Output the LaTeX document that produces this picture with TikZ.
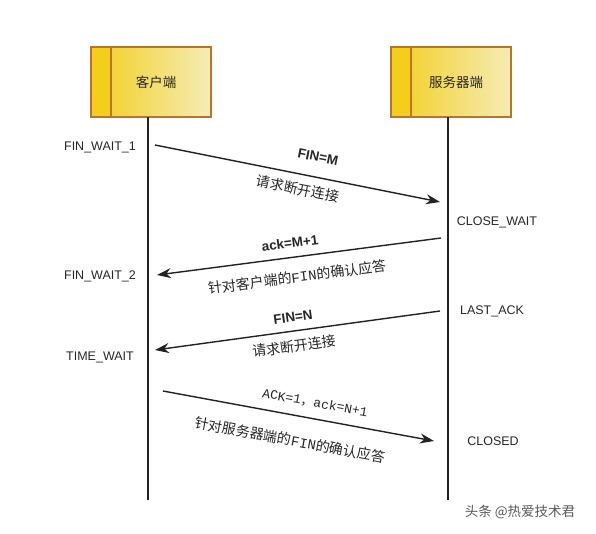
\documentclass[tikz,border=0pt]{standalone}
\usepackage{fontspec}
\setmainfont{Liberation Sans}
\newfontfamily\cjk{Noto Sans CJK SC}
\newfontfamily\monoA{Liberation Mono}
\usetikzlibrary{arrows.meta}
\definecolor{boxborder}{HTML}{B8742A}
\definecolor{goldL}{HTML}{F2CF1E}
\definecolor{goldR}{HTML}{F5ECB5}
\definecolor{strip}{HTML}{F4CE1A}
\definecolor{linec}{HTML}{222222}
\tikzset{
  actorbox/.style={draw=boxborder, line width=1.6pt, left color=goldL, right color=goldR, minimum width=120pt, minimum height=70pt, inner sep=0pt, font=\cjk\fontsize{13.5}{15}\selectfont, text=black!85},
  stripbox/.style={draw=boxborder, line width=1.6pt, fill=strip, minimum width=20pt, minimum height=70pt, inner sep=0pt},
  lifeline/.style={draw=linec, line width=1.6pt},
  msg/.style={draw=linec, line width=1.4pt, -{Stealth[length=14pt,width=10pt]}},
  statelbl/.style={font=\fontsize{12.5}{14}\selectfont, text=black!85},
  boldlbl/.style={font=\bfseries\fontsize{13.5}{15}\selectfont, text=black!85},
  cnlbl/.style={font=\cjk\fontsize{14}{16}\selectfont, text=black!85},
}
\begin{document}
\begin{tikzpicture}[x=1pt,y=-1pt]
\useasboundingbox (0,0) rectangle (596,533);
% actor boxes
\node[actorbox] (client) at (151,82) {\hspace*{10pt}客户端};
\node[stripbox] (cstrip) at (101,82) {};
\node[actorbox] (server) at (451,82) {\hspace*{10pt}服务器端};
\node[stripbox] (sstrip) at (401,82) {};
% lifelines
\coordinate (cend) at (148,500);
\coordinate (send) at (448,500);
\draw[lifeline] (148,117) -- (cend);
\draw[lifeline] (448,117) -- (send);
% arrow endpoints
\coordinate (a1s) at (155,145); \coordinate (a1e) at (440,202);
\coordinate (a2s) at (441,238); \coordinate (a2e) at (157,275);
\coordinate (a3s) at (440,311); \coordinate (a3e) at (155,350);
\coordinate (a4s) at (163,391); \coordinate (a4e) at (434,441);
\draw[msg] (a1s) -- (a1e);
\draw[msg] (a2s) -- (a2e);
\draw[msg] (a3s) -- (a3e);
\draw[msg] (a4s) -- (a4e);
% message labels
\node[boldlbl, rotate=-11.3] (l1a) at (318,157) {FIN=M};
\node[cnlbl, rotate=-11.3] (l1b) at (298,189) {请求断开连接};
\node[boldlbl, rotate=7.4] (l2a) at (290,243) {ack=M+1};
\node[cnlbl, rotate=7.4] (l2b) at (297,277) {针对客户端的{\monoA FIN}的确认应答};
\node[boldlbl, rotate=7.8] (l3a) at (293,317) {FIN=N};
\node[cnlbl, rotate=7.8] (l3b) at (294,346) {请求断开连接};
\node[font=\monoA\fontsize{13}{15}\selectfont, text=black!85, rotate=-10.5] (l4a) at (315,403) {ACK=1{\cjk ，}ack=N+1};
\node[cnlbl, rotate=-10.5] (l4b) at (290,440) {针对服务器端的{\monoA FIN}的确认应答};
% state labels
\node[statelbl] (s1) at (100,147) {FIN\_WAIT\_1};
\node[statelbl] (s2) at (497,222) {CLOSE\_WAIT};
\node[statelbl] (s3) at (100,276) {FIN\_WAIT\_2};
\node[statelbl] (s4) at (492,311) {LAST\_ACK};
\node[statelbl] (s5) at (100,357) {TIME\_WAIT};
\node[statelbl] (s6) at (493,441) {CLOSED};
% watermark
\node[font=\cjk\fontsize{13.5}{15}\selectfont, text=black!65] (wm) at (520,512) {头条 @热爱技术君};
\end{tikzpicture}
\end{document}
